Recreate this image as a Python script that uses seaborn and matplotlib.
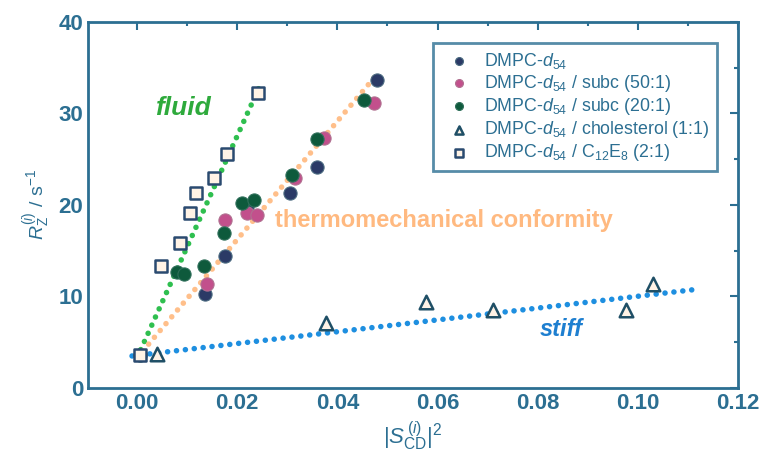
import numpy as np
import pandas as pd
import seaborn as sns
import matplotlib.pyplot as plt
from matplotlib.ticker import MultipleLocator

# data
dmpc_x = [0.0136, 0.0176, 0.0219, 0.0306, 0.0359, 0.0479]
dmpc_y = [10.3, 14.4, 19.8, 21.3, 24.2, 33.7]

subc50_x = [0.0139, 0.0176, 0.0219, 0.0239, 0.0316, 0.0373, 0.0473]
subc50_y = [11.4, 18.4, 19.1, 18.9, 22.9, 27.3, 31.1]

subc20_x = [0.0006, 0.0079, 0.0093, 0.0133, 0.0173, 0.0209, 0.0233, 0.0309, 0.0359, 0.0453]
subc20_y = [3.6, 12.7, 12.5, 13.3, 16.9, 20.2, 20.5, 23.3, 27.2, 31.5]

chol_x = [0.0040, 0.0378, 0.0576, 0.0711, 0.0976, 0.1030]
chol_y = [3.7, 7.1, 9.4, 8.5, 8.5, 11.4]

c12e8_x = [0.0006, 0.0047, 0.0085, 0.0105, 0.0118, 0.0153, 0.0179, 0.0242]
c12e8_y = [3.6, 13.3, 15.8, 19.1, 21.3, 22.9, 25.6, 32.2]

# guide lines (end points)
fluid_x = [0.0, 0.0245]
fluid_y = [3.3, 33.0]
mid_x = [0.0, 0.0475]
mid_y = [3.3, 34.0]
stiff_x = [-0.001, 0.112]
stiff_y = [3.5, 10.8]

axis_col = '#2c6f92'

sns.set_style('white')
plt.rcParams['font.family'] = ['Liberation Sans', 'DejaVu Sans']
plt.rcParams['mathtext.fontset'] = 'custom'
plt.rcParams['mathtext.rm'] = 'Liberation Sans'
plt.rcParams['mathtext.it'] = 'Liberation Sans:italic'

fig = plt.figure(figsize=(7.63, 4.57), dpi=100)
ax = fig.add_axes([0.1153, 0.151, 0.852, 0.801])

dot = (0, (0.01, 1.6))
ax.plot(fluid_x, fluid_y, color='#2fbf4f', lw=4, ls=dot, dash_capstyle='round', zorder=1)
ax.plot(mid_x, mid_y, color='#ffbf8a', lw=4, ls=dot, dash_capstyle='round', zorder=1)
ax.plot(stiff_x, stiff_y, color='#1e8fe0', lw=4, ls=dot, dash_capstyle='round', zorder=1)

sns.scatterplot(x=dmpc_x, y=dmpc_y, ax=ax, marker='o', s=90, color='#2b3a66',
                edgecolor='#4a6a80', linewidth=0.8, label=r'DMPC-$d_{54}$', zorder=3)
sns.scatterplot(x=subc50_x, y=subc50_y, ax=ax, marker='o', s=90, color='#c2508c',
                edgecolor='#b07090', linewidth=0.8,
                label=r'DMPC-$d_{54}$ / subc (50:1)', zorder=3)
sns.scatterplot(x=subc20_x, y=subc20_y, ax=ax, marker='o', s=90, color='#0e5a3c',
                edgecolor='#2f6f5a', linewidth=0.8,
                label=r'DMPC-$d_{54}$ / subc (20:1)', zorder=3)
sns.scatterplot(x=chol_x, y=chol_y, ax=ax, marker='^', s=95, color='#fff3e6',
                edgecolor='#1f4f66', linewidth=1.8,
                label=r'DMPC-$d_{54}$ / cholesterol (1:1)', zorder=3)
sns.scatterplot(x=c12e8_x, y=c12e8_y, ax=ax, marker='s', s=75, color='#fff3e6',
                edgecolor='#2a4a70', linewidth=1.8,
                label=r'DMPC-$d_{54}$ / C$_{12}$E$_8$ (2:1)', zorder=3)

ax.text(0.0036, 29.8, 'fluid', color='#2eaa3c', fontsize=19, fontweight='bold', style='italic')
ax.text(0.0805, 5.7, 'stiff', color='#1e7fd0', fontsize=17, fontweight='bold', style='italic')
ax.text(0.0275, 17.6, 'thermomechanical conformity', color='#ffa860', fontsize=17,
        fontweight='bold', alpha=0.8)

ax.set_xlim(-0.0098, 0.12)
ax.set_ylim(0, 40)
ax.xaxis.set_major_locator(MultipleLocator(0.02))
ax.xaxis.set_minor_locator(MultipleLocator(0.01))
ax.yaxis.set_major_locator(MultipleLocator(10))
ax.yaxis.set_minor_locator(MultipleLocator(5))
ax.set_xticks(np.arange(0, 0.121, 0.02))
ax.set_xticklabels(['0.00', '0.02', '0.04', '0.06', '0.08', '0.10', '0.12'])

for sp in ax.spines.values():
    sp.set_color(axis_col)
    sp.set_linewidth(2)
ax.tick_params(which='both', direction='in', top=True, right=True, color=axis_col,
               labelcolor=axis_col, labelsize=16, width=1.5)
ax.tick_params(which='major', length=6)
ax.tick_params(which='minor', length=3)
for lab in ax.get_xticklabels() + ax.get_yticklabels():
    lab.set_fontweight('bold')

ax.set_xlabel(r'$|S_{\rm CD}^{\,(i)}|^2$', color=axis_col, fontsize=16, labelpad=4)
ax.set_ylabel(r'$R_{\rm Z}^{(i)}$ / s$^{-1}$', color=axis_col, fontsize=14, labelpad=4)

leg = ax.legend(loc='upper right', bbox_to_anchor=(0.968, 0.943), borderaxespad=0,
                fontsize=12.8, frameon=True, fancybox=False, handletextpad=0.4,
                labelspacing=0.12, borderpad=0.45, markerscale=0.6)
leg.get_frame().set_edgecolor(axis_col)
leg.get_frame().set_linewidth(2)
for t in leg.get_texts():
    t.set_color(axis_col)

fig.savefig('out.png', dpi=100)
